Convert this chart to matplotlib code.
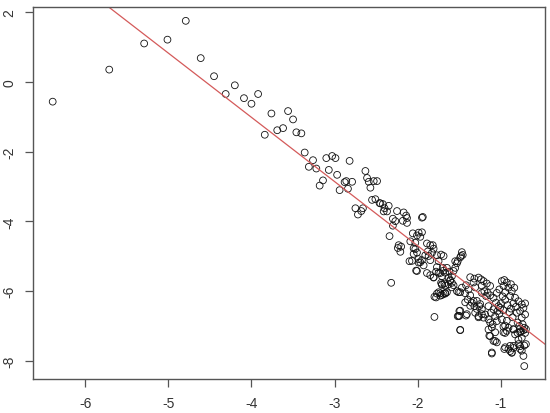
import numpy as np
import matplotlib
matplotlib.use("Agg")
import matplotlib.pyplot as plt

# scatter values (x, y)
x = [-6.39, -5.71, -5.29, -5.01, -4.79, -4.61, -4.45, -4.31, -4.20, -4.09, -4.00, -3.92, -3.84, -3.76,
     -3.56, -3.50, -3.69, -3.62, -3.46, -3.40,
     -3.36, -3.26, -3.31, -3.22, -3.10, -3.03, -2.99, -3.07, -2.97, -2.82,
     -3.14, -3.18, -2.94, -2.88, -2.86, -2.79, -2.84,
     -2.63, -2.61, -2.59, -2.53, -2.49, -2.57,
     -2.55, -2.51, -2.46, -2.35,
     -2.75, -2.66, -2.68, -2.72,
     -2.45, -2.42, -2.40, -2.41, -2.37,
     -2.25, -2.17, -2.14, -2.13, -2.18, -2.13, -2.30, -2.27, -2.30,
     -1.95, -1.94, -2.34,
     -2.23, -2.20, -2.24, -2.21, -2.32,
     -2.09, -2.06, -2.01, -1.99, -1.95, -1.97, -2.03, -2.05,
     -2.10, -2.01, -1.99, -1.95, -1.93,
     -1.89, -1.85, -1.82, -1.88, -1.91, -1.87, -1.83, -1.85, -1.81,
     -1.77, -1.72, -1.69, -1.75, -1.77, -1.70, -1.75, -1.81, -1.71, -1.67,
     -1.80, -1.77, -1.73, -1.67, -1.71, -1.68, -1.72, -1.80,
     -1.65, -1.62, -1.63, -1.61, -1.59, -1.57, -1.59, -1.57, -1.55, -1.53, -1.52, -1.55,
     -1.47, -1.46, -1.48, -1.49,
     -1.53, -1.49, -1.50, -1.52, -1.49, -1.42,
     -1.37, -1.32, -1.27, -1.24, -1.21, -1.17, -1.13,
     -1.23, -1.20, -1.16, -1.18, -1.13, -1.09, -1.06, -1.03,
     -0.99, -0.96, -0.93, -0.97, -0.91, -0.87, -0.95, -0.89, -0.83, -0.79, -0.75, -0.71, -0.73, -0.77,
     -0.81, -0.71, -0.75,
     -0.99, -0.97, -0.95, -0.91, -0.85, -0.83, -0.77, -0.73, -0.71, -0.75, -0.79, -0.72, -0.77, -0.85,
     -0.89, -0.96, -0.87, -1.11, -1.07, -1.13, -1.15, -1.10, -1.05, -0.72,
     -1.47, -1.42, -1.39, -1.43, -1.37, -1.40, -1.35, -1.32, -1.29, -1.26, -1.23, -1.31, -1.27, -1.21,
     -1.19, -1.15, -1.12, -1.09, -1.15, -1.07, -1.04, -1.01,
     -0.95, -0.92, -0.88, -0.85, -0.82, -0.90, -0.86, -0.93, -0.80, -0.78, -0.74, -0.72, -0.76, -0.80,
     -0.88, -0.84, -1.02, -1.05, -0.98, -1.00, -0.97, -1.02,
     -1.67, -1.71, -1.49, -1.51, -1.41, -1.49,
     -1.43, -1.37, -1.33, -1.29, -1.25, -1.23, -1.27,
     -1.13, -1.11, -1.14, -1.09, -1.07, -1.05, -1.11, -0.95, -0.91, -0.87, -0.89, -0.85, -0.79, -0.77,
     -0.73, -0.75, -0.70, -0.97, -0.95, -0.93, -0.85, -0.77, -0.70,
     -1.33, -1.31, -1.23,
     -2.02, -1.89, -1.85, -1.81, -1.78, -1.73, -1.69,
     -1.71, -1.67, -1.63, -1.61, -1.59, -1.65, -1.69, -1.73, -1.78, -1.75,
     -1.51, -1.50,
     -2.03, -2.01, -2.05, -2.07, -1.99, -1.97]

y = [-0.56, 0.36, 1.11, 1.22, 1.76, 0.69, 0.17, -0.34, -0.09, -0.46, -0.62, -0.34, -1.51, -0.90,
     -0.83, -1.07, -1.38, -1.32, -1.44, -1.47,
     -2.02, -2.24, -2.43, -2.48, -2.18, -2.12, -2.18, -2.52, -2.66, -2.26,
     -2.82, -2.97, -3.10, -2.87, -2.84, -2.86, -3.06,
     -2.55, -2.75, -2.86, -2.84, -2.84, -3.03,
     -3.38, -3.36, -3.47, -3.55,
     -3.62, -3.62, -3.70, -3.80,
     -3.48, -3.50, -3.62, -3.71, -3.71,
     -3.70, -3.74, -3.83, -3.90, -3.98, -4.04, -3.92, -3.99, -4.12,
     -3.89, -3.87, -4.42,
     -4.68, -4.72, -4.76, -4.87, -5.76,
     -4.57, -4.34, -4.40, -4.32, -4.31, -4.44, -4.61, -4.77,
     -5.14, -5.42, -5.18, -5.11, -5.26,
     -4.63, -4.68, -4.68, -4.86, -4.97, -4.99, -4.90, -5.11, -4.78,
     -4.97, -4.95, -4.99, -5.14, -5.31, -5.33, -5.47, -5.61, -5.57, -5.47,
     -6.16, -6.07, -6.06, -6.07, -5.82, -5.78, -5.76, -6.74,
     -5.33, -5.44, -5.61, -5.68, -5.57, -5.42, -5.76, -5.83, -5.33, -5.20, -5.14, -5.14,
     -4.88, -4.96, -4.99, -5.03,
     -6.00, -6.03, -6.57, -6.72, -7.12, -6.70,
     -5.60, -5.64, -5.61, -5.66, -5.71, -5.78, -5.85,
     -6.05, -6.00, -6.05, -6.14, -6.12, -6.19, -6.33, -6.43,
     -5.71, -5.68, -5.75, -5.85, -5.90, -6.00, -6.03, -6.14, -6.19, -6.29, -6.38, -6.35, -6.48, -6.57,
     -6.62, -6.67, -6.76,
     -6.81, -7.02, -7.20, -7.05, -7.10, -7.24, -7.08, -7.12, -7.20, -7.34, -7.39, -7.56, -7.58, -7.63,
     -7.72, -7.66, -7.77, -7.79, -7.43, -7.29, -7.10, -6.95, -6.86, -8.15,
     -5.90, -5.83, -5.95, -6.06, -6.12, -6.24, -6.33, -6.43, -6.28, -6.43, -6.52, -6.62, -6.72, -6.76,
     -6.67, -6.81, -6.62, -6.52, -6.43, -6.72, -6.57, -6.48,
     -6.25, -6.40, -6.50, -6.35, -6.45, -6.60, -6.75, -6.85, -6.90, -7.00, -6.95, -7.05, -7.15, -7.20,
     -5.80, -5.90, -5.95, -6.05, -6.15, -6.35, -6.55, -6.65,
     -6.05, -6.11, -6.56, -6.71, -6.66, -7.11,
     -6.32, -6.42, -6.28, -6.51, -6.37, -6.66, -6.75,
     -6.90, -7.04, -7.28, -7.43, -7.18, -7.47, -7.76, -7.61, -7.66, -7.76, -7.57, -7.57, -7.52, -7.66,
     -7.86, -7.71, -7.52, -7.18, -6.99, -7.14, -7.09, -7.18, -7.09,
     -5.75, -5.89, -5.84,
     -5.41, -5.48, -5.54, -5.60, -5.44, -5.48, -5.41,
     -5.80, -5.84, -5.80, -5.70, -5.89, -6.03, -6.08, -6.13, -6.18, -6.03,
     -6.03, -6.71,
     -4.79, -4.89, -4.93, -5.13, -5.08, -5.17]

# fitted line
intercept = -8.39
slope = -1.845

x_ticks = [-6, -5, -4, -3, -2, -1]
y_ticks = [-8, -6, -4, -2, 0, 2]

plt.rcParams['font.family'] = ['Liberation Sans', 'DejaVu Sans']

fig = plt.figure(figsize=(5.5, 4.14), dpi=100)
ax = fig.add_axes([0.0595, 0.0814, 0.9315, 0.8995])

ax.scatter(x, y, s=24, facecolors='none', edgecolors='#111111', linewidths=0.6)
ax.axline((0, intercept), slope=slope, color='#d45a5a', linewidth=0.9)

ax.set_xlim(-6.63, -0.47)
ax.set_ylim(-8.53, 2.16)
ax.set_xticks(x_ticks)
ax.set_yticks(y_ticks)
ax.set_xticklabels([str(v) for v in x_ticks])
ax.set_yticklabels([str(v) for v in y_ticks], rotation=90, va='center')

for s in ax.spines.values():
    s.set_color('#555555')
    s.set_linewidth(1.0)
ax.tick_params(direction='out', length=6, width=0.9, color='#555555',
               labelsize=10, labelcolor='#333333')
ax.tick_params(axis='x', pad=6)
ax.tick_params(axis='y', pad=6)

fig.savefig('out.png', dpi=100)
